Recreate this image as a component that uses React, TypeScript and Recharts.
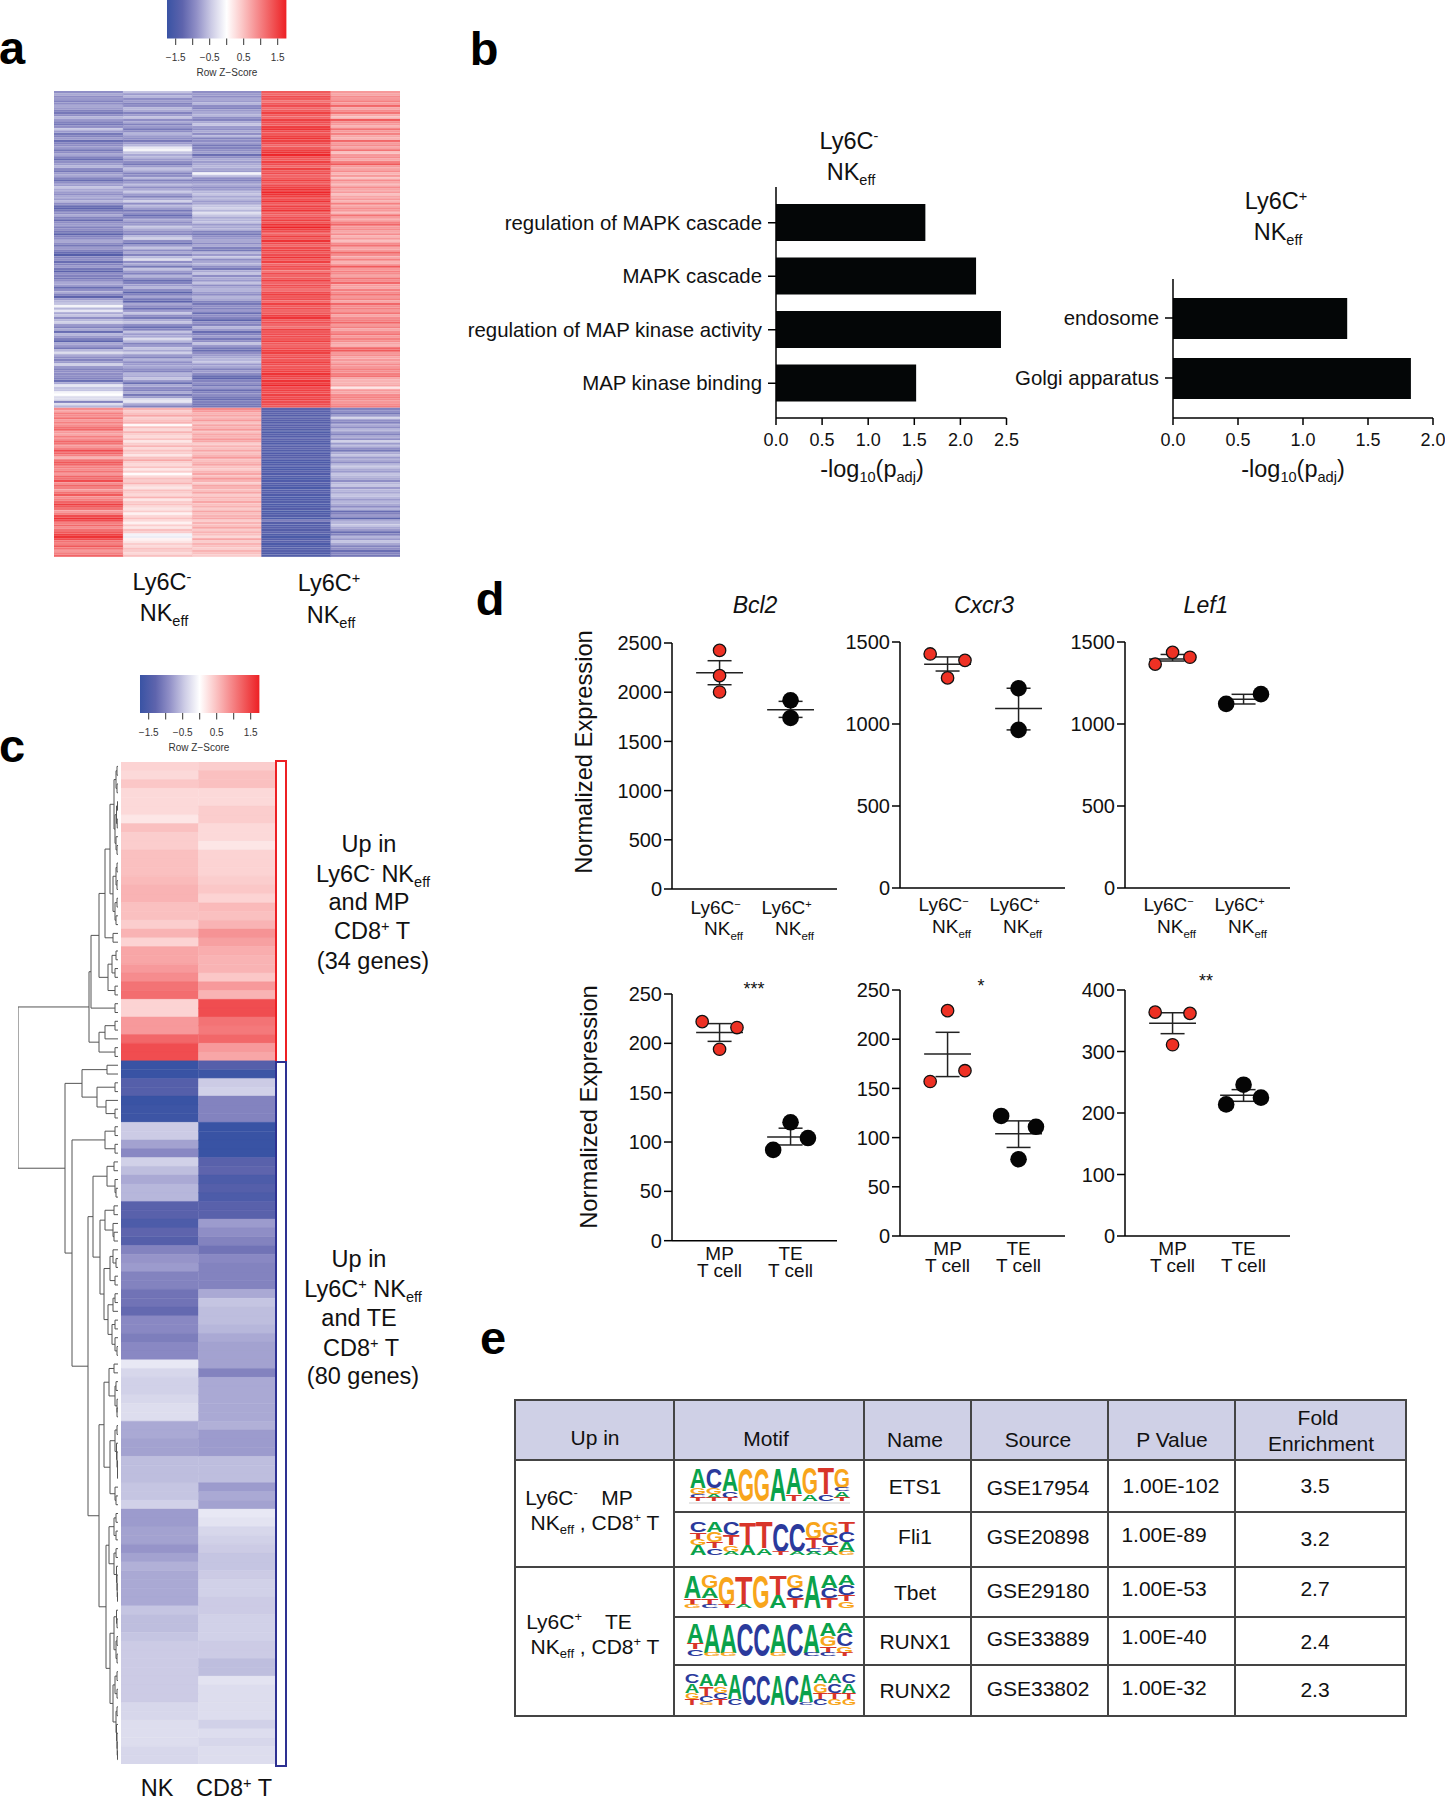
import React from 'react';
import {
  BarChart, Bar, Cell, XAxis, YAxis, ScatterChart, Scatter, ErrorBar,
  ReferenceArea, LineChart, Line,
} from 'recharts';

const FONT = '"Liberation Sans", Arial, sans-serif';
const KEY_MAX = 1.756;

// panel a, z-scores per sample, rows top to bottom
const aTop1 = [
  -.9,-.7,-.9,-.8,-1,-.9,-.7,-.8,-1,-1.1,
  -.9,-.6,-.8,-1,-1.1,-.9,-.5,-.8,-1.1,-1,
  -.8,-1.2,-1,-.9,-.8,-1.1,-.9,-.7,-1,-1.2,
  -.9,-.8,-.6,-.9,-1.1,-.8,-.7,-1,-1.2,-.9,
  -.8,-.5,-.7,-.8,-.9,-.7,-.8,-.6,-.9,-1.2,
  -1.3,-1.1,-.9,-.7,-1,-1.2,-.9,-.8,-1,-.9,
  -1.1,-1.3,-1,-.9,-.7,-.9,-1.1,-.8,-1,-1.2,
  -1.4,-1,-.9,-1.2,-1,-.8,-1.1,-1.3,-.9,-1,
  -1.1,-.9,-.7,-.8,-1.2,-.9,-.7,-1,-1.3,-.8,
  -.6,-.5,-.1,-.6,-.2,-.7,-.5,-.9,-.6,-.4,
  -.8,-1,-.7,-1.2,-.6,-.8,-1,-1.3,-.7,-.8,
  -1.1,-.6,-.3,-.7,-.9,-1,-.8,-.4,-.8,-1,
  -.9,-.9,-.9,-1,-1.2,-.7,-.2,-.5,-.5,-.1,
  0,-.3,-.3,-1,-.3,-.6,
];
const aTop2 = [
  -.5,-.8,-.6,-.9,-.8,-1,-.9,-.6,-.7,-1,
  -.8,-.5,-.9,-.7,-1,-.8,-1.1,-.9,-.6,-.8,
  -.9,-1.1,-.8,-.6,-.2,-.1,-.5,-.7,-.6,-.8,
  -.9,-1.1,-.8,-.5,-.7,-1,-.9,-.6,-1,-.8,
  -.6,-.9,-.7,-.5,-.8,-1,-.7,-.4,-.9,-.6,
  -.8,-1.1,-.9,-1.2,-1,-.7,-.9,-.8,-.5,-.7,
  -.9,-1,-.6,-.4,-.9,-1.2,-.8,-.5,-.9,-.7,
  -1,-.6,-.3,-.9,-.7,-1.1,-.5,-.8,-1,-.6,
  -.9,-1.2,-1,-.8,-.6,-.9,-1.3,-1,-.7,-1.1,
  -1.3,-.7,-.9,-1.2,-.8,-.5,-.9,-1.1,-.7,-.5,
  -.9,-1.2,-1,-.5,-.8,-.7,-.3,-.6,-1,-.8,
  -.5,-.7,-.4,-.8,-1,-.6,-.9,-.8,-.7,-.9,
  -1,-.6,-.7,-.5,-.8,-1.2,-.7,-.9,-1,-.7,
  -1.1,-.8,-.3,-.2,-.7,-1,
];
const aTop3 = [
  -.9,-.8,-.9,-.7,-.8,-.6,-.9,-1,-.8,-.7,
  -.6,-.9,-1,-.7,-.5,-.8,-.9,-.7,-.9,-.6,
  -1,-.9,-.8,-1.1,-1,-.9,-.8,-1.2,-.9,-.7,
  -.8,-.7,-.6,-.7,-.8,-.1,-.5,-.9,-1,-.8,
  -.7,-.9,-.8,-.6,-.5,-.7,-.6,-.8,-.7,-.5,
  -.4,-.6,-.3,-.5,-.7,-.6,-.5,-.8,-.7,-.6,
  -1,-1.1,-.9,-.8,-.7,-.9,-.7,-1,-1.1,-.6,
  -.8,-.5,-.9,-.7,-.6,-.9,-1.1,-.7,-.5,-.9,
  -.7,-.8,-.5,-.9,-.7,-.6,-.8,-.9,-.6,-.7,
  -1,-1.1,-.9,-1,-.8,-1.2,-.9,-1,-1.3,-.9,
  -1,-.6,-.8,-1.2,-1,-.8,-1.1,-.9,-.5,-.8,
  -1.1,-1.2,-.9,-.8,-.7,-.6,-.5,-.8,-.7,-1,
  -.8,-.9,-1.2,-1.3,-1,-.9,-1.1,-.8,-1.2,-1,
  -.9,-1.1,-1.2,-1,-1.1,-1.1,
];
const aTop4 = [
  1.3,1.2,1.4,1.3,1.1,1.3,1.4,1.2,1.3,1.5,
  1.3,1.2,1.5,1.4,1.3,1.5,1.6,1.4,1.3,1.5,
  1.6,1.5,1.4,1.2,1.3,1.5,1.6,1.7,1.4,1.3,
  1.5,1.4,1.2,1.5,1.3,1.4,1.2,1.3,1.5,1.3,
  1.4,1.5,1.6,1.7,1.6,1.5,1.4,1.6,1.3,1.5,
  1.4,1.6,1.3,1.2,1.4,1.5,1.3,1.6,1.7,1.5,
  1.4,1.2,1.5,1.3,1.6,1.4,1.2,1.4,1.5,1.3,
  1.4,1.6,1.3,1.5,1.2,1.4,1.3,1.1,1.4,1.2,
  1.3,1.5,1.2,1.4,1.3,1.1,1.4,1.5,1.3,1.4,
  1.2,1.5,1.3,1.4,1.2,1.3,1.5,1.6,1.3,1.4,
  1.2,1.1,1.5,1.3,1.4,1.4,1.3,1.5,1.3,1.2,
  1.4,1.5,1.5,1.3,1.4,1.3,1.5,1.4,1.3,1.4,
  1.5,1.6,1.5,1.4,1.6,1.5,1.7,1.4,1.5,1.4,
  1.5,1.4,1.5,1.4,1.4,1.3,
];
const aTop5 = [
  .8,.7,.9,.8,1,.8,1.2,.7,.9,1.1,
  .7,.5,1.3,.9,.8,.6,1.1,.8,1,.7,
  .6,1.2,.8,.9,.7,1.1,.5,.8,.9,.7,
  1,1.3,.8,.7,.9,.6,.8,.5,.9,.7,
  .6,.9,.7,.8,.5,.7,.8,.6,1,.7,
  .9,.8,.6,1.1,.8,.7,1,1.2,.8,.9,
  .7,.9,.6,.8,.5,.9,1.1,.7,.8,1.2,
  .9,.7,1,.6,.8,1.3,.8,1,.9,.7,
  1.1,.9,1.2,.8,.7,1,.9,1.1,.8,1,
  .7,1.2,.9,1,.8,1.1,.7,.9,1,1.2,
  .8,1,.7,.9,1.1,.8,1,.9,.7,.6,
  1.2,1.3,.8,.9,.7,.8,.7,.9,.8,1,
  .9,1,1.1,.7,.6,.6,.7,.2,.8,.7,
  .9,1,.9,.8,.9,1,
];
const aBot1 = [
  .9,.7,1,.9,1.1,.8,1,.9,1.1,1.2,
  .8,.7,1,.9,1.2,1.1,.8,1,1.4,1.2,
  1,.6,1.1,1.3,1.2,1,.9,1.1,.8,1.2,
  1.1,1.4,.9,1.2,1,.8,1.1,1.3,.9,1,
  1.2,1.5,1.3,1.1,.8,1,1.4,1.6,1.4,1,
  1.2,.9,1.1,1.3,1.5,1.6,1.4,1.1,1,1.3,
  1.1,.8,1,1.2,
];
const aBot2 = [
  .6,.4,.5,.7,.4,.5,.6,.05,.5,.3,
  .6,.4,.3,.5,.2,.4,.6,.3,.5,.4,
  .2,.5,.7,.4,.3,.5,.2,.4,.02,.3,
  .5,.4,.6,.3,.2,.5,.4,.3,.6,.2,
  .4,.5,.3,.2,.4,.1,.3,.5,.3,.1,
  .4,.2,.5,.4,-.1,-.15,.1,.2,.4,.3,
  .5,.4,.3,.5,
];
const aBot3 = [
  .9,.8,.6,.7,.6,.8,.5,.7,.6,.8,
  .5,.7,.6,.8,.7,.4,.6,.5,.7,.5,
  .6,.8,.5,.6,.7,.5,.4,.6,.7,.5,
  .8,.6,.4,.7,.6,.5,.7,.4,.6,.5,
  .7,.5,.6,.4,.7,.5,.6,.7,.4,.6,
  .5,.7,.4,.6,.5,.3,.7,.4,.6,.5,
  .4,.6,.5,.4,
];
const aBot4 = [
  -1.3,-1.35,-1.3,-1.4,-1.3,-1.35,-1.4,-1.35,-1.3,-1.4,
  -1.45,-1.35,-1.4,-1.3,-1.4,-1.45,-1.35,-1.3,-1.4,-1.45,
  -1.4,-1.35,-1.45,-1.5,-1.4,-1.45,-1.5,-1.35,-1.45,-1.4,
  -1.5,-1.45,-1.4,-1.45,-1.5,-1.4,-1.35,-1.45,-1.5,-1.45,
  -1.4,-1.5,-1.45,-1.4,-1.5,-1.45,-1.4,-1.5,-1.05,-1.4,
  -1.45,-1.35,-1.4,-1.3,-1.45,-1.5,-1.4,-1.35,-1.5,-1.45,
  -1.4,-1.35,-1.45,-1.4,
];
const aBot5 = [
  -1,-.9,-1.1,-.8,-.4,-.9,-1,-.7,-.9,-.6,
  -.8,-1,-.7,-.9,-.4,-.8,-.6,-.9,-1.1,-.7,
  -.5,-.8,-.7,-.9,-.6,-.5,-.7,-.8,-.5,-.6,
  -.7,-.9,-.6,-.5,-.8,-.6,-.7,-.5,-.6,-.8,
  -.6,-.7,-.9,-.6,-1.2,-1,-.8,-1.3,-.7,-.6,
  -.5,-.7,-.8,-1.2,-1,-.6,-.8,-.5,-.7,-1,
  -.9,-1.2,-1,-1.1,
];

// panel c, 34 + 80 genes
const cNk = [
  .35,.3,.45,.3,.3,.3,.2,.5,.4,.4,.5,.5,.5,.55,.6,.6,.5,.5,.4,.6,.35,.7,.7,.8,.9,1.1,1.15,.35,.35,.8,.8,1.2,1.4,1.4,
  -1.75,-1.75,-1.4,-1.4,-1.75,-1.7,-1.7,-.45,-.45,-.75,-.95,-.4,-.55,-.7,-.6,-.6,
  -1.35,-1.35,-1.5,-1.3,-1.4,-1,-.85,-.8,-1,-1,-1.15,-1.15,-1.25,-.95,-.95,-1.05,-.95,-.95,
  -.2,-.35,-.4,-.4,-.35,-.3,-.3,-.7,-.7,-.75,-.75,-.55,-.55,-.55,-.5,-.5,-.4,
  -.8,-.8,-.75,-.75,-.85,-.75,-.65,-.7,-.7,-.7,-.7,-.5,-.55,-.55,-.5,-.45,-.45,-.45,-.45,
  -.45,-.45,-.45,-.35,-.35,-.3,-.3,-.3,-.35,-.35,
];
const cCd8 = [
  .4,.5,.5,.3,.3,.4,.4,.3,.3,.2,.35,.35,.35,.4,.45,.35,.55,.5,.6,.85,.75,.65,.6,.6,.45,.8,.6,1.4,1.4,1.1,1.05,1.2,.8,.7,
  -1.4,-1.7,-.45,-.4,-1,-1,-1,-1.8,-1.8,-1.75,-1.75,-1.35,-1.3,-1.5,-1.4,-1.5,
  -1.35,-1.35,-.8,-.9,-1,-1.15,-.95,-1,-1,-1,-.7,-.5,-.55,-.55,-.6,-.7,-.75,-.75,
  -.75,-1,-.7,-.7,-.7,-.7,-.7,-.65,-.8,-.8,-.8,-.55,-.55,-.55,-.8,-.7,-.75,
  -.2,-.25,-.35,-.4,-.45,-.5,-.5,-.45,-.4,-.4,-.45,-.45,-.4,-.4,-.4,-.45,-.45,-.55,-.55,
  -.25,-.3,-.3,-.3,-.3,-.4,-.3,-.35,-.3,-.3,
];

// dendrogram of panel c: [height, left, right], leaves are row numbers
type Tree = number | [number, Tree, Tree];
const topTree: Tree = [29,
  [27,
    [19,
      [13,
        [8,
          [4, [2, [1, 0, 1], [1, 2, 3]], [3, [1.5, [.5, 4, 5], [.8, 6, 7]], [2, 8, [1, 9, 10]]]],
          [5, [2, [1, 11, 12], [1, 13, 14]], [3, [1, 15, 16], [2, 17, 18]]]],
        [5, 19, 20]],
      [10, [6, [2, 21, 22], [3, 23, 24]], [3, 25, 26]]],
    [3, 27, 28]],
  [19, [13, [3, 29, 30], 31], [3, 32, 33]]];
const bottomTree: Tree = [53,
  [36, [11, 34, 35], [21, [3, 36, 37], [12, 38, [3, 39, 40]]]],
  [46,
    [13, [3, 41, 42], [3, 43, 44]],
    [30,
      [25,
        [11, [4, 45, 46], [3, 47, [2, 48, 49]]],
        [18,
          [13, [4, 50, 51], [5, 52, [4, 53, 54]]],
          [14,
            [8, [5, 55, [2, 56, 57]], [3, 58, 59]],
            [10, [5, [3, 60, 61], 62], [6, [3, 63, 64], [3, 65, [1, 66, 67]]]]]]],
      [19,
        [14,
          [9, [4, 68, 69], [3, [2, 70, 71], [1, 72, [1, 73, 74]]]],
          [8, [3, [1, 75, 76], [1.5, 77, [1, 78, [.5, 79, [.5, 80, 81]]]]], [3, 82, [2, 83, 84]]]],
        [12,
          [9, [4, [2, 85, 86], [2, 87, 88]], [4, [2, 89, 90], [1.5, 91, [1, 92, [.8, 93, [.5, 94, 95]]]]]],
          [8,
            [4, [1.5, 96, [1, 97, 98]], [2, [1, 99, 100], [1, 101, 102]]],
            [5, [3, [1, 103, 104], [1, 105, 106]], [2, [1, 107, 108], [1.5, 109, [1, 110, [.8, 111, [.5, 112, 113]]]]]]]]]]]];

// panel b
const goNeg = ['regulation of MAPK cascade', 'MAPK cascade', 'regulation of MAP kinase activity', 'MAP kinase binding'];
const goNegVals = [1.62, 2.17, 2.44, 1.52];
const goPos = ['endosome', 'Golgi apparatus'];
const goPosVals = [1.34, 1.83];

// panel d, replicate values and mean / sem
const bcl2Red = [2425, 2168, 2002];
const bcl2Black = [1917, 1738];
const bcl2Stats = [[2198, 2076, 2320], [1822, 1744, 1907]];
const cxcr3Red = [1427, 1388, 1281];
const cxcr3Black = [1218, 964];
const cxcr3Stats = [[1364, 1323, 1409], [1094, 964, 1218]];
const lef1Red = [1365, 1437, 1407];
const lef1Black = [1123, 1182];
const lef1Stats = [[1396, 1384, 1424], [1151, 1122, 1181]];
const gene4Red = [222, 216, 194];
const gene4Black = [120, 104, 92];
const gene4Stats = [[211, 202, 220], [105, 97, 114]];
const gene5Red = [229, 168, 157];
const gene5Black = [122, 111, 78];
const gene5Stats = [[185, 162, 207], [104, 90, 117]];
const gene6Red = [364, 362, 311];
const gene6Black = [246, 225, 214];
const gene6Stats = [[346, 329, 363], [229, 219, 238]];

// horizontal jitter of the dots inside a group
const bcl2RedX = [1, 1, 1];
const bcl2BlackX = [2, 2];
const cxcr3RedX = [.755, 1.245, 1];
const cxcr3BlackX = [2, 2];
const lef1RedX = [.755, 1, 1.245];
const lef1BlackX = [1.755, 2.245];
const gene4RedX = [.755, 1.245, 1];
const gene4BlackX = [2, 2.245, 1.755];
const gene5RedX = [1, 1.245, .755];
const gene5BlackX = [1.755, 2.245, 2];
const gene6RedX = [.755, 1.245, 1];
const gene6BlackX = [2, 2.245, 1.755];

const ticks2500 = [0, 500, 1000, 1500, 2000, 2500];
const ticks1500 = [0, 500, 1000, 1500];
const ticks250 = [0, 50, 100, 150, 200, 250];
const ticks400 = [0, 100, 200, 300, 400];
const keyTicks = [-1.5, -1, -.5, 0, .5, 1, 1.5];
const keyStops = [-1.756, -1.3, -.9, -.45, 0, .45, .9, 1.3, 1.756];

// panel e
const tableCols = [515, 674, 864, 971, 1108, 1235, 1406];
const tableRows = [1400, 1460, 1512, 1567, 1617, 1665, 1716];
const motifNames = ['ETS1', 'Fli1', 'Tbet', 'RUNX1', 'RUNX2'];
const motifSources = ['GSE17954', 'GSE20898', 'GSE29180', 'GSE33889', 'GSE33802'];
const motifP = ['1.00E-102', '1.00E-89', '1.00E-53', '1.00E-40', '1.00E-32'];
const motifFold = ['3.5', '3.2', '2.7', '2.4', '2.3'];
const logoEts1 = [
  'A6 G2 C1 T1', 'C6 G2 A1 T1', 'A7 C2 T1', 'G10', 'G10', 'A10', 'A8 T2', 'G8 A2', 'T8 C2', 'G6 C1 A2 T1',
];
const logoFli1 = [
  'C3 T2 G2 A3', 'A3 G3 T2 C2', 'C4 T3 G2 A1', 'T7 A3', 'T8 A2', 'C9 T1', 'C9 A1', 'G5 T3 C1 A1', 'G4 C3 T2 A1', 'T3 C3 A3 G1',
];
const logoTbet = [
  'A7 T2 G1', 'G4 A3 T2 C1', 'G9 T1', 'T9 A1', 'G10', 'T6 A4', 'G4 C3 T3', 'A10', 'A4 C3 T3', 'A3 C3 T2 G2',
];
const logoRunx1 = [
  'A6 T2 C2', 'A9 G1', 'A9 G1', 'C10', 'C10', 'A9 G1', 'C10', 'A9 C1', 'A4 G3 T2 C1', 'A3 C4 G2 T1',
];
const logoRunx2 = [
  'C3 A3 G2 T2', 'A4 T3 C2 G1', 'A4 G2 C2 T2', 'A8 C2', 'C10', 'C10', 'A10', 'C10', 'A9 C1', 'A3 G3 T2 C2', 'A3 C3 T2 G2', 'C3 A3 T2 G2',
];

const LETTER_FILL: Record<string, string> = { A: '#0aa24b', C: '#2b3a9c', G: '#f8a51b', T: '#d8352a' };
const LETTER_W: Record<string, number> = { A: 72, C: 72, G: 78, T: 61 };

// colour ramp of the key, blue side runs through a purple tone
const RAMP_T = [0, .25, .5, .75, 1];
const RAMP_BLUE = [[255, 255, 255], [205, 205, 230], [146, 144, 199], [92, 98, 172], [57, 83, 164]];
const RAMP_RED = [[255, 255, 255], [251, 200, 200], [246, 143, 145], [241, 88, 90], [237, 32, 36]];

function zColor(z: number) {
  const t = Math.min(Math.abs(z) / KEY_MAX, 1);
  const ramp = z < 0 ? RAMP_BLUE : RAMP_RED;
  const i = Math.min(Math.floor(t * 4), 3);
  const f = (t - RAMP_T[i]) / .25;
  const c = ramp[i].map((v, k) => Math.round(v + (ramp[i + 1][k] - v) * f));
  return `rgb(${c[0]},${c[1]},${c[2]})`;
}

const Sup = ({ children }: any) => (
  <span style={{ fontSize: '0.62em', verticalAlign: '0.55em', lineHeight: 0 }}>{children}</span>
);
const Sub = ({ children }: any) => (
  <span style={{ fontSize: '0.62em', verticalAlign: '-0.35em', lineHeight: 0 }}>{children}</span>
);

function Txt({ x, y, size = 21, rotate = 0, bold = false, italic = false, children, color = '#111' }: any) {
  return (
    <div
      style={{
        position: 'absolute', left: x, top: y, fontSize: size, color, whiteSpace: 'pre',
        fontWeight: bold ? 700 : 400, fontStyle: italic ? 'italic' : 'normal', lineHeight: 1,
        transform: `translate(-50%,-50%) rotate(${rotate}deg)`,
      }}
    >
      {children}
    </div>
  );
}

const Box = ({ x, y, children }: any) => (
  <div style={{ position: 'absolute', left: x, top: y }}>{children}</div>
);

function Heatmap({ width, height, columns }: { width: number; height: number; columns: number[][] }) {
  const keys = columns.map((_, i) => `s${i}`);
  const rows = columns[0].map((_, r) => {
    const row: any = { row: r };
    keys.forEach((k) => { row[k] = 1; });
    return row;
  });
  return (
    <BarChart width={width} height={height} data={rows} layout="vertical" barCategoryGap={0}
      margin={{ top: 0, right: 0, bottom: 0, left: 0 }}>
      <XAxis type="number" hide domain={[0, columns.length]} />
      <YAxis type="category" dataKey="row" hide />
      {columns.map((col, c) => (
        <Bar key={keys[c]} dataKey={keys[c]} stackId="h" isAnimationActive={false}>
          {col.map((z, r) => (
            <Cell key={r} fill={zColor(z)} stroke={zColor(z)} strokeWidth={0.4} />
          ))}
        </Bar>
      ))}
    </BarChart>
  );
}

const NoDot = () => null;

function ColorKey({ x, y, h, id }: { x: number; y: number; h: number; id: string }) {
  const pts = keyTicks.map((t) => ({ x: t, y: .5 }));
  return (
    <Box x={x - 20} y={y}>
      <ScatterChart width={159.4} height={h + 34} margin={{ top: 0, right: 20, bottom: 0, left: 20 }}>
        <defs>
          <linearGradient id={id} x1="0" x2="1" y1="0" y2="0">
            {keyStops.map((s) => (
              <stop key={s} offset={`${((s + KEY_MAX) / (2 * KEY_MAX)) * 100}%`} stopColor={zColor(s)} />
            ))}
          </linearGradient>
        </defs>
        <XAxis type="number" dataKey="x" domain={[-KEY_MAX, KEY_MAX]} ticks={keyTicks} interval={0} height={34}
          axisLine={false} tickSize={6.5} tickMargin={9} tickLine={{ stroke: '#333' }}
          tick={{ fontSize: 10, fill: '#333', fontFamily: FONT }}
          tickFormatter={(v: number) => (Math.abs(v) === 1.5 || Math.abs(v) === .5 ? `${v < 0 ? '\u2212' : ''}${Math.abs(v).toFixed(1)}` : '')} />
        <YAxis type="number" dataKey="y" domain={[0, 1]} hide />
        <ReferenceArea x1={-KEY_MAX} x2={KEY_MAX} y1={0} y2={1} fill={`url(#${id})`} fillOpacity={1} stroke="none" ifOverflow="visible" />
        <Scatter data={pts} shape={NoDot} isAnimationActive={false} />
      </ScatterChart>
    </Box>
  );
}

function Dendrogram() {
  const segs: { h: number; y: number | null }[] = [];
  const walk = (n: Tree): { h: number; y: number } => {
    if (typeof n === 'number') return { h: 0, y: n + .5 };
    const a = walk(n[1]);
    const b = walk(n[2]);
    segs.push({ h: a.h, y: a.y }, { h: n[0], y: a.y }, { h: n[0], y: b.y }, { h: b.h, y: b.y }, { h: b.h, y: null });
    return { h: n[0], y: (a.y + b.y) / 2 };
  };
  walk([100, topTree, bottomTree]);
  return (
    <LineChart width={100} height={1002} data={segs} margin={{ top: 0, right: 0, bottom: 0, left: 0 }}>
      <XAxis type="number" dataKey="h" domain={[0, 100]} reversed hide />
      <YAxis type="number" domain={[0, 114]} reversed hide />
      <Line dataKey="y" stroke="#555" strokeWidth={1} dot={false} connectNulls={false} isAnimationActive={false} />
    </LineChart>
  );
}

function GoBars({ names, vals, max, plotW, plotH, left, padTop, padBottom, barSize }: any) {
  const data = names.map((name: string, i: number) => ({ name, value: vals[i] }));
  const ticks = [];
  for (let t = 0; t <= max; t += .5) ticks.push(t);
  const ax = { stroke: '#000', strokeWidth: 1.5 };
  return (
    <BarChart width={left + plotW + 20} height={plotH + 40} data={data} layout="vertical" barSize={barSize}
      margin={{ top: 0, right: 20, bottom: 0, left: 0 }}>
      <XAxis type="number" domain={[0, max]} ticks={ticks} interval={0} height={40} tickSize={7} tickMargin={8}
        axisLine={ax} tickLine={ax} tickFormatter={(v: number) => v.toFixed(1)}
        tick={{ fontSize: 18, fill: '#111', fontFamily: FONT }} />
      <YAxis type="category" dataKey="name" width={left} interval={0} tickSize={8} tickMargin={6}
        padding={{ top: padTop, bottom: padBottom }} axisLine={ax} tickLine={ax}
        tick={{ fontSize: 20.4, fill: '#111', fontFamily: FONT, width: 400 } as any} />
      <Bar dataKey="value" fill="#040607" isAnimationActive={false} />
    </BarChart>
  );
}

const RedDot = ({ cx, cy }: any) => <circle cx={cx} cy={cy} r={6.2} fill="#ee3124" stroke="#111" strokeWidth={1.3} />;
const BlackDot = ({ cx, cy }: any) => <circle cx={cx} cy={cy} r={8.3} fill="#050505" />;

function twoLineTick(groups: string[][], dx: number[], line1: number, line2: number) {
  return ({ x, payload }: any, axisY: number) => {
    const g = groups[payload.value - 1];
    const sup = g[1];
    const sub = g[3];
    return (
      <g fontFamily={FONT} fontSize={19} fill="#111" textAnchor="middle">
        <text x={x + dx[0]} y={axisY + line1}>
          {g[0]}{sup ? <tspan dy={-6} fontSize={11}>{sup}</tspan> : null}
        </text>
        <text x={x + dx[1]} y={axisY + line2}>
          {g[2]}{sub ? <tspan dy={5} fontSize={11.5}>{sub}</tspan> : null}
        </text>
      </g>
    );
  };
}
const ly6cGroups = [['Ly6C', '\u2212', 'NK', 'eff'], ['Ly6C', '+', 'NK', 'eff']];
const tCellGroups = [['MP', '', 'T cell', ''], ['TE', '', 'T cell', '']];

function DotPlot({ x, y, h, yMax, ticks, red, redX, black, blackX, stats, tick }: any) {
  const plotW = 165;
  const ax = { stroke: '#000', strokeWidth: 1.5 };
  const redPts = red.map((v: number, i: number) => ({ x: redX[i], y: v }));
  const blackPts = black.map((v: number, i: number) => ({ x: blackX[i], y: v }));
  const meanPts = stats.map((s: number[], i: number) => ({
    x: i + 1, y: s[0], errY: [s[0] - s[1], s[2] - s[0]], errX: .33,
  }));
  return (
    <Box x={x - 60} y={y - 20}>
      <ScatterChart width={60 + plotW + 20} height={20 + h + 60} margin={{ top: 20, right: 20, bottom: 0, left: 0 }}>
        <XAxis type="number" dataKey="x" domain={[.33, 2.654]} ticks={[1, 2]} height={60} axisLine={ax}
          tickLine={false} tick={(p: any) => tick(p, 20 + h)} interval={0} />
        <YAxis type="number" dataKey="y" domain={[0, yMax]} ticks={ticks} interval={0} width={60} tickSize={8}
          tickMargin={2} axisLine={ax} tickLine={ax} tick={{ fontSize: 20, fill: '#111', fontFamily: FONT }} />
        <Scatter data={meanPts} shape={NoDot} isAnimationActive={false}>
          <ErrorBar dataKey="errY" direction="y" width={12} stroke="#222" strokeWidth={1.5} isAnimationActive={false} />
          <ErrorBar dataKey="errX" direction="x" width={0} stroke="#222" strokeWidth={1.5} isAnimationActive={false} />
        </Scatter>
        <Scatter data={redPts} shape={RedDot} isAnimationActive={false} />
        <Scatter data={blackPts} shape={BlackDot} isAnimationActive={false} />
      </ScatterChart>
    </Box>
  );
}

function Logo({ x, y, w, h, cols }: { x: number; y: number; w: number; h: number; cols: string[] }) {
  const colW = w / cols.length;
  return (
    <g>
      {cols.map((col, c) => {
        let top = y;
        return col.split(' ').map((part, i) => {
          const letter = part[0];
          const frac = Number(part.slice(1)) / 10;
          const lh = frac * h;
          const base = top + lh;
          top = base;
          return (
            <text key={`${c}-${i}`} fontFamily={FONT} fontWeight={700} fontSize={100} textAnchor="middle"
              fill={LETTER_FILL[letter]}
              transform={`translate(${x + colW * (c + .5)},${base}) scale(${(colW * 1.02) / LETTER_W[letter]},${lh / 71.6})`}>
              {letter}
            </text>
          );
        });
      })}
    </g>
  );
}

function MotifTable() {
  const [x0, x1] = [tableCols[0], tableCols[1]];
  const xEnd = tableCols[tableCols.length - 1];
  const yEnd = tableRows[tableRows.length - 1];
  const line = '#444';
  const nameY = [1486, 1536, 1592, 1641, 1690];
  const srcY = [1487, 1536, 1590, 1638, 1688];
  const pY = [1485, 1534, 1588, 1636, 1687];
  const foldY = [1485, 1538, 1588, 1641, 1689];
  const pX = [1171, 1164, 1164, 1164, 1164];
  return (
    <>
      <div style={{ position: 'absolute', left: x0, top: tableRows[0], width: xEnd - x0, height: tableRows[1] - tableRows[0], background: '#cfd0e6' }} />
      {tableCols.map((c) => (
        <div key={c} style={{ position: 'absolute', left: c - 1, top: tableRows[0] - 1, width: 2, height: yEnd - tableRows[0] + 2, background: line }} />
      ))}
      {tableRows.map((r, i) => {
        const partial = i === 2 || i === 4 || i === 5;
        const left = partial ? x1 : x0;
        return <div key={r} style={{ position: 'absolute', left: left - 1, top: r - 1, width: xEnd - left + 2, height: 2, background: line }} />;
      })}
      <Txt x={595} y={1437}>Up in</Txt>
      <Txt x={766} y={1438}>Motif</Txt>
      <Txt x={915} y={1439}>Name</Txt>
      <Txt x={1038} y={1439}>Source</Txt>
      <Txt x={1172} y={1439}>P Value</Txt>
      <Txt x={1318} y={1417}>Fold</Txt>
      <Txt x={1321} y={1443}>Enrichment</Txt>
      {motifNames.map((n, i) => (
        <React.Fragment key={n}>
          <Txt x={915} y={nameY[i]}>{n}</Txt>
          <Txt x={1038} y={srcY[i]}>{motifSources[i]}</Txt>
          <Txt x={pX[i]} y={pY[i]}>{motifP[i]}</Txt>
          <Txt x={1315} y={foldY[i]}>{motifFold[i]}</Txt>
        </React.Fragment>
      ))}
      <Txt x={579} y={1497}>Ly6C<Sup>-</Sup>{'    '}MP</Txt>
      <Txt x={595} y={1522}>NK<Sub>eff</Sub> , CD8<Sup>+</Sup> T</Txt>
      <Txt x={579} y={1621}>Ly6C<Sup>+</Sup>{'    '}TE</Txt>
      <Txt x={595} y={1646}>NK<Sub>eff</Sub> , CD8<Sup>+</Sup> T</Txt>
      <svg width={1445} height={1800} style={{ position: 'absolute', left: 0, top: 0, pointerEvents: 'none' }}>
        <Logo x={690} y={1468} w={160} h={33} cols={logoEts1} />
        <line x1={689} x2={850} y1={1503} y2={1503} stroke="#ddd" strokeWidth={1.5} />
        <Logo x={690} y={1522} w={165} h={33} cols={logoFli1} />
        <Logo x={684} y={1575} w={171} h={33} cols={logoTbet} />
        <Logo x={687} y={1623} w={166} h={33} cols={logoRunx1} />
        <Logo x={685} y={1674} w={171} h={31} cols={logoRunx2} />
      </svg>
    </>
  );
}

export default function App() {
  const ly6cA = twoLineTick(ly6cGroups, [-4, 4], 25, 46);
  const ly6cB = twoLineTick(ly6cGroups, [-4, 4], 23, 45);
  const tCell = twoLineTick(tCellGroups, [0, 0], 19, 36);
  return (
    <div style={{ position: 'absolute', left: 0, top: 0, width: 1445, height: 1800, background: '#fff', overflow: 'hidden', fontFamily: FONT }}>
      {/* a */}
      <Txt x={12} y={47} size={47} bold color="#000">a</Txt>
      <ColorKey x={167.3} y={0} h={38.5} id="keyA" />
      <Txt x={227} y={73} size={10} color="#333">Row Z{'\u2212'}Score</Txt>
      <Box x={54} y={91}>
        <Heatmap width={346} height={466}
          columns={[
            [...aTop1, ...aBot1], [...aTop2, ...aBot2], [...aTop3, ...aBot3],
            [...aTop4, ...aBot4], [...aTop5, ...aBot5],
          ]} />
      </Box>
      <Txt x={162} y={583} size={23.5}>Ly6C<Sup>-</Sup></Txt>
      <Txt x={164} y={614} size={23.5}>NK<Sub>eff</Sub></Txt>
      <Txt x={329} y={584} size={23.5}>Ly6C<Sup>+</Sup></Txt>
      <Txt x={331} y={616} size={23.5}>NK<Sub>eff</Sub></Txt>

      {/* b */}
      <Txt x={484} y={48} size={47} bold color="#000">b</Txt>
      <Txt x={849} y={142} size={23.5}>Ly6C<Sup>-</Sup></Txt>
      <Txt x={851} y={173} size={23.5}>NK<Sub>eff</Sub></Txt>
      <Box x={446} y={187}>
        <GoBars names={goNeg} vals={goNegVals} max={2.5} plotW={230.5} plotH={231} left={330} padTop={9} padBottom={8} barSize={37} />
      </Box>
      <Txt x={872} y={470} size={23.5}>-log<Sub>10</Sub>(p<Sub>adj</Sub>)</Txt>
      <Txt x={1276} y={202} size={23.5}>Ly6C<Sup>+</Sup></Txt>
      <Txt x={1278} y={233} size={23.5}>NK<Sub>eff</Sub></Txt>
      <Box x={973} y={279}>
        <GoBars names={goPos} vals={goPosVals} max={2} plotW={260} plotH={139} left={200} padTop={9} padBottom={10} barSize={41} />
      </Box>
      <Txt x={1293} y={470} size={23.5}>-log<Sub>10</Sub>(p<Sub>adj</Sub>)</Txt>

      {/* c */}
      <Txt x={12} y={745} size={47} bold color="#000">c</Txt>
      <ColorKey x={139.5} y={675} h={38} id="keyC" />
      <Txt x={199} y={748} size={10} color="#333">Row Z{'\u2212'}Score</Txt>
      <Box x={18} y={762}><Dendrogram /></Box>
      <Box x={120.5} y={762}>
        <Heatmap width={155} height={1002} columns={[cNk, cCd8]} />
      </Box>
      <div style={{ position: 'absolute', left: 275, top: 760, width: 8, height: 299, border: '2px solid #ed2024' }} />
      <div style={{ position: 'absolute', left: 275, top: 1061, width: 8, height: 702, border: '2px solid #2e3192' }} />
      <Txt x={369} y={845} size={23.5}>Up in</Txt>
      <Txt x={373} y={875} size={23.5}>Ly6C<Sup>-</Sup> NK<Sub>eff</Sub></Txt>
      <Txt x={369} y={903} size={23.5}>and MP</Txt>
      <Txt x={372} y={932} size={23.5}>CD8<Sup>+</Sup> T</Txt>
      <Txt x={373} y={962} size={23.5}>(34 genes)</Txt>
      <Txt x={359} y={1260} size={23.5}>Up in</Txt>
      <Txt x={363} y={1290} size={23.5}>Ly6C<Sup>+</Sup> NK<Sub>eff</Sub></Txt>
      <Txt x={359} y={1319} size={23.5}>and TE</Txt>
      <Txt x={361} y={1349} size={23.5}>CD8<Sup>+</Sup> T</Txt>
      <Txt x={363} y={1377} size={23.5}>(80 genes)</Txt>
      <Txt x={157} y={1789} size={23.5}>NK</Txt>
      <Txt x={234} y={1789} size={23.5}>CD8<Sup>+</Sup> T</Txt>

      {/* d */}
      <Txt x={490} y={598} size={47} bold color="#000">d</Txt>
      <Txt x={755} y={605} size={23} italic>Bcl2</Txt>
      <Txt x={984} y={605} size={23} italic>Cxcr3</Txt>
      <Txt x={1206} y={605} size={23} italic>Lef1</Txt>
      <Txt x={585} y={752} size={23.7} rotate={-90}>Normalized Expression</Txt>
      <Txt x={590} y={1107} size={23.7} rotate={-90}>Normalized Expression</Txt>
      <DotPlot x={672} y={643} h={246} yMax={2500} ticks={ticks2500} red={bcl2Red} redX={bcl2RedX} black={bcl2Black} blackX={bcl2BlackX} stats={bcl2Stats} tick={ly6cA} />
      <DotPlot x={900} y={642} h={246} yMax={1500} ticks={ticks1500} red={cxcr3Red} redX={cxcr3RedX} black={cxcr3Black} blackX={cxcr3BlackX} stats={cxcr3Stats} tick={ly6cB} />
      <DotPlot x={1125} y={642} h={246} yMax={1500} ticks={ticks1500} red={lef1Red} redX={lef1RedX} black={lef1Black} blackX={lef1BlackX} stats={lef1Stats} tick={ly6cB} />
      <DotPlot x={672} y={994} h={246.7} yMax={250} ticks={ticks250} red={gene4Red} redX={gene4RedX} black={gene4Black} blackX={gene4BlackX} stats={gene4Stats} tick={tCell} />
      <DotPlot x={900} y={990} h={246} yMax={250} ticks={ticks250} red={gene5Red} redX={gene5RedX} black={gene5Black} blackX={gene5BlackX} stats={gene5Stats} tick={tCell} />
      <DotPlot x={1125} y={990} h={246} yMax={400} ticks={ticks400} red={gene6Red} redX={gene6RedX} black={gene6Black} blackX={gene6BlackX} stats={gene6Stats} tick={tCell} />
      <Txt x={754} y={989} size={18}>***</Txt>
      <Txt x={981} y={986} size={18}>*</Txt>
      <Txt x={1206} y={981} size={18}>**</Txt>

      {/* e */}
      <Txt x={493} y={1337} size={47} bold color="#000">e</Txt>
      <MotifTable />
    </div>
  );
}
